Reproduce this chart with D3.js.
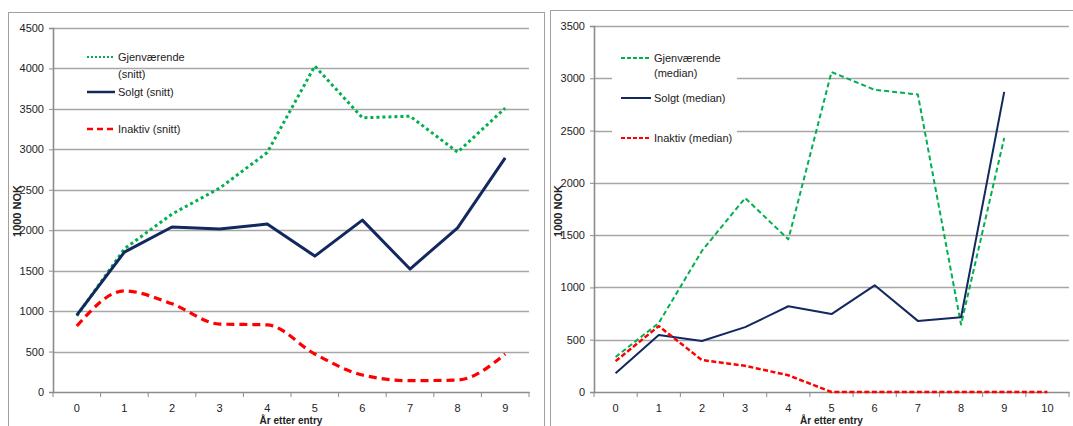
<!DOCTYPE html>
<html>
<head>
<meta charset="utf-8">
<script src="https://cdn.jsdelivr.net/npm/d3@7"></script>
<style>
  html, body { margin: 0; padding: 0; background: #fff; }
  svg text { font-family: "Liberation Sans Narrow", "Liberation Sans", Arial, sans-serif; fill: #222; }
</style>
</head>
<body>
<svg id="chart" width="1073" height="426"></svg>
<script>
// ---------- data ----------
const yearsLeft = [0, 1, 2, 3, 4, 5, 6, 7, 8, 9];
const yearsRight = [0, 1, 2, 3, 4, 5, 6, 7, 8, 9, 10];

const gjenSnitt = [940, 1770, 2200, 2520, 2960, 4030, 3390, 3410, 2965, 3510];
const solgtSnitt = [950, 1730, 2040, 2015, 2077, 1680, 2125, 1520, 2030, 2895];
const inaktivSnitt = [816, 1250, 1090, 840, 830, 470, 210, 140, 148, 470];

const gjenMedian = [335, 660, 1350, 1855, 1460, 3060, 2890, 2845, 645, 2430];
const solgtMedian = [180, 545, 488, 620, 820, 745, 1020, 680, 715, 2870];
const inaktivMedian = [295, 630, 305, 250, 160, 0, 0, 0, 0, 0, 0];

const ticksLeft = [0, 500, 1000, 1500, 2000, 2500, 3000, 3500, 4000, 4500];
const ticksRight = [0, 500, 1000, 1500, 2000, 2500, 3000, 3500];

const labelsLeft = ["Gjenværende", "(snitt)", "Solgt (snitt)", "Inaktiv (snitt)"];
const labelsRight = ["Gjenværende", "(median)", "Solgt (median)", "Inaktiv (median)"];
const yTitle = "1000 NOK";
const xTitle = "År etter entry";

// ---------- drawing ----------
const svg = d3.select("#chart");
const GREEN = "#00b050", NAVY = "#12285e", RED = "#ff0000";
const GRID = "#a6a6a6", AXIS = "#8c8c8c", FRAME = "#a0a0a0";

function panel(opt) {
  const g = svg.append("g");
  // frame
  g.append("rect").attr("x", opt.frame[0] + 0.5).attr("y", opt.frame[1] + 0.5)
    .attr("width", opt.frame[2]).attr("height", 440)
    .attr("fill", "#fff").attr("stroke", FRAME).attr("stroke-width", 1);

  const x = d3.scaleBand().domain(opt.cats).range(opt.xr).paddingInner(0).paddingOuter(0);
  const y = d3.scaleLinear().domain([0, opt.ymax]).range(opt.yr);

  // gridlines
  g.append("g").selectAll("line").data(opt.ticks.filter(t => t > 0)).join("line")
    .attr("x1", opt.xr[0]).attr("x2", opt.xr[1])
    .attr("y1", d => Math.round(y(d)) + 0.5).attr("y2", d => Math.round(y(d)) + 0.5)
    .attr("stroke", GRID).attr("stroke-width", 1.3);

  // y axis
  const ya = g.append("g").attr("transform", `translate(${opt.xr[0]},0)`)
    .call(d3.axisLeft(y).tickValues(opt.ticks).tickSize(4).tickPadding(5).tickFormat(d3.format("d")));
  ya.select(".domain").attr("stroke", AXIS).attr("stroke-width", 1.6);
  ya.selectAll(".tick line").attr("stroke", AXIS);
  ya.selectAll("text").attr("font-size", 11).style("font-family", null);

  // x axis
  const xa = g.append("g").attr("transform", `translate(0,${opt.yr[0]})`)
    .call(d3.axisBottom(x).tickSize(0).tickPadding(12));
  xa.select(".domain").attr("stroke", AXIS).attr("stroke-width", 1.6);
  xa.selectAll("text").attr("font-size", 11).style("font-family", null);
  // boundary ticks
  const bounds = opt.cats.map(c => x(c)).concat([opt.xr[1]]);
  xa.append("g").selectAll("line").data(bounds).join("line")
    .attr("x1", d => d).attr("x2", d => d).attr("y1", 0).attr("y2", 5)
    .attr("stroke", AXIS).attr("stroke-width", 1);

  // legend background (right panel only)
  if (opt.legendBox) {
    g.append("rect").attr("x", opt.legendBox[0]).attr("y", opt.legendBox[1])
      .attr("width", opt.legendBox[2]).attr("height", opt.legendBox[3]).attr("fill", "#fff");
  }

  // series
  const cx = i => x(opt.cats[i]) + x.bandwidth() / 2;
  opt.series.forEach(s => {
    const line = d3.line().x((d, i) => cx(i)).y(d => y(d)).curve(s.curve || d3.curveLinear);
    g.append("path").datum(s.values).attr("d", line)
      .attr("fill", "none").attr("stroke", s.color).attr("stroke-width", s.width)
      .attr("stroke-dasharray", s.dash || null).attr("stroke-linejoin", "round");
  });

  // legend
  const lg = g.append("g");
  const rows = opt.legendRows;
  opt.series.forEach((s, i) => {
    const ry = rows[i];
    lg.append("line").attr("x1", opt.legendX[0]).attr("x2", opt.legendX[1])
      .attr("y1", ry).attr("y2", ry).attr("stroke", s.color)
      .attr("stroke-width", s.legendWidth).attr("stroke-dasharray", s.legendDash || null);
  });
  const textRows = [rows[0], rows[0] + opt.wrapGap, rows[1], rows[2]];
  opt.labels.forEach((t, i) => {
    lg.append("text").attr("x", opt.legendX[1] + 3).attr("y", textRows[i] + 4)
      .attr("font-size", 11).text(t);
  });

  // axis titles
  g.append("text").attr("transform", `translate(${opt.yTitlePos[0]},${opt.yTitlePos[1]}) rotate(-90)`)
    .attr("text-anchor", "middle").attr("font-size", 11).attr("font-weight", "bold").text(yTitle);
  g.append("text").attr("x", (opt.xr[0] + opt.xr[1]) / 2).attr("y", 424)
    .attr("text-anchor", "middle").attr("font-size", 10).attr("font-weight", "bold").text(xTitle);
}

panel({
  frame: [8, 12, 536],
  cats: yearsLeft, xr: [53, 529], yr: [392, 28], ymax: 4500, ticks: ticksLeft,
  series: [
    { values: gjenSnitt, color: GREEN, width: 3, dash: "3,3", legendWidth: 2, legendDash: "2,2" },
    { values: solgtSnitt, color: NAVY, width: 3, legendWidth: 2.5 },
    { values: inaktivSnitt, color: RED, width: 3.2, dash: "8,5", curve: d3.curveMonotoneX, legendWidth: 2.5, legendDash: "6,4" }
  ],
  legendX: [87, 115], legendRows: [57, 92, 129], wrapGap: 17,
  labels: labelsLeft, yTitlePos: [21, 211]
});

panel({
  frame: [550, 10, 540],
  cats: yearsRight, xr: [594, 1069], yr: [392, 26], ymax: 3500, ticks: ticksRight,
  series: [
    { values: gjenMedian, color: GREEN, width: 2, dash: "5,3", legendWidth: 2, legendDash: "4,2" },
    { values: solgtMedian, color: NAVY, width: 2, legendWidth: 2 },
    { values: inaktivMedian, color: RED, width: 2.5, dash: "5,2.5", legendWidth: 2, legendDash: "4,2" }
  ],
  legendBox: [612, 42, 125, 106],
  legendX: [621, 651], legendRows: [58, 98, 138], wrapGap: 15,
  labels: labelsRight, yTitlePos: [562, 211]
});
</script>
</body>
</html>
